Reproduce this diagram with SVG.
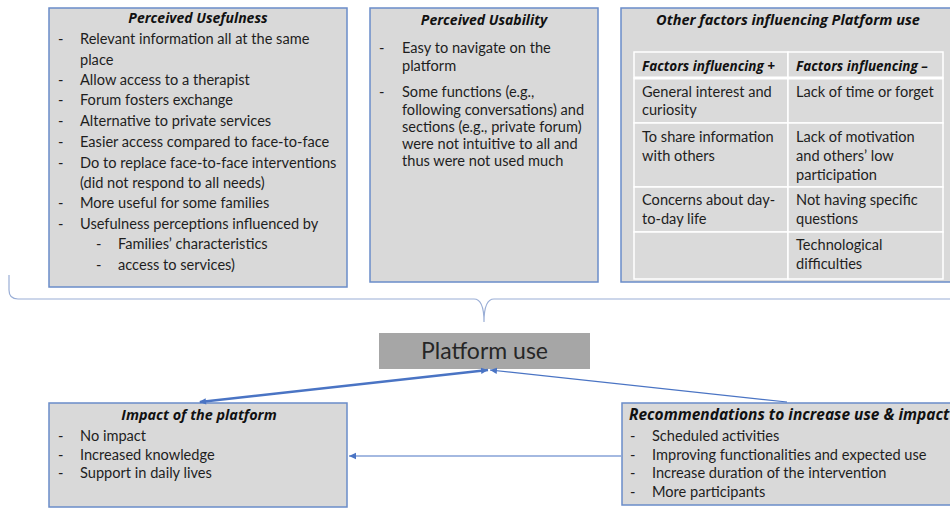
<svg xmlns="http://www.w3.org/2000/svg" width="950" height="510" viewBox="0 0 950 510">
  <style>
    .box { fill: #d9d9d9; stroke: #6a8cc9; stroke-width: 1.5; }
    .txt { font-family: Lato, "Open Sans", sans-serif; font-size: 14.6px; fill: #1e1e1e; }
    .ttl { font-family: "Open Sans", Lato, sans-serif; font-size: 14px; font-weight: bold; font-style: italic; fill: #111; }
    .hdr { font-size: 13.5px; }
    .cell { fill: #dadada; stroke: #ffffff; stroke-width: 1.5; }
    .link { fill: none; stroke: #4a74c4; }
  </style>
  <defs>
    <marker id="arr" markerWidth="8" markerHeight="8" refX="7" refY="4" orient="auto" markerUnits="userSpaceOnUse">
      <path d="M0,0.8 L7,4 L0,7.2 Z" fill="#4a74c4"/>
    </marker>
    <marker id="arrS" markerWidth="8" markerHeight="8" refX="1" refY="4" orient="auto" markerUnits="userSpaceOnUse">
      <path d="M7,0.8 L0,4 L7,7.2 Z" fill="#4a74c4"/>
    </marker>
  </defs>

  <rect width="950" height="510" fill="#ffffff"/>

  <!-- Perceived usefulness -->
  <g id="usefulness">
    <rect class="box" x="49" y="8" width="298" height="279"/>
    <text class="ttl" x="198" y="23" text-anchor="middle">Perceived Usefulness</text>
    <g class="txt">
      <text x="58" y="44">-</text><text x="80" y="44">Relevant information all at the same</text>
      <text x="80" y="65">place</text>
      <text x="58" y="85">-</text><text x="80" y="85">Allow access to a therapist</text>
      <text x="58" y="105">-</text><text x="80" y="105">Forum fosters exchange</text>
      <text x="58" y="126">-</text><text x="80" y="126">Alternative to private services</text>
      <text x="58" y="147">-</text><text x="80" y="147">Easier access compared to face-to-face</text>
      <text x="58" y="168">-</text><text x="80" y="168">Do to replace face-to-face interventions</text>
      <text x="80" y="188">(did not respond to all needs)</text>
      <text x="58" y="208">-</text><text x="80" y="208">More useful for some families</text>
      <text x="58" y="229">-</text><text x="80" y="229">Usefulness perceptions influenced by</text>
      <text x="96" y="249">-</text><text x="118" y="249">Families’ characteristics</text>
      <text x="96" y="270">-</text><text x="118" y="270">access to services)</text>
    </g>
  </g>

  <!-- Perceived usability -->
  <g id="usability">
    <rect class="box" x="370" y="8" width="228" height="274"/>
    <text class="ttl" x="484" y="25" text-anchor="middle">Perceived Usability</text>
    <g class="txt">
      <text x="379" y="53">-</text><text x="402" y="53">Easy to navigate on the</text>
      <text x="402" y="71">platform</text>
      <text x="379" y="97">-</text><text x="402" y="97">Some functions (e.g.,</text>
      <text x="402" y="115">following conversations) and</text>
      <text x="402" y="132">sections (e.g., private forum)</text>
      <text x="402" y="149">were not intuitive to all and</text>
      <text x="402" y="166">thus were not used much</text>
    </g>
  </g>

  <!-- Other factors table -->
  <g id="other-factors">
    <rect class="box" x="621" y="8" width="335" height="274"/>
    <text class="ttl" x="788" y="25" text-anchor="middle" style="font-size:14.5px">Other factors influencing Platform use</text>
    <rect class="cell" x="634" y="52" width="154" height="26"/>
    <rect class="cell" x="788" y="52" width="155" height="26"/>
    <rect class="cell" x="634" y="78" width="154" height="45"/>
    <rect class="cell" x="788" y="78" width="155" height="45"/>
    <rect class="cell" x="634" y="123" width="154" height="64"/>
    <rect class="cell" x="788" y="123" width="155" height="64"/>
    <rect class="cell" x="634" y="187" width="154" height="45"/>
    <rect class="cell" x="788" y="187" width="155" height="45"/>
    <rect class="cell" x="634" y="232" width="154" height="47"/>
    <rect class="cell" x="788" y="232" width="155" height="47"/>
    <line x1="634" y1="78" x2="943" y2="78" stroke="#ffffff" stroke-width="3"/>
    <text class="ttl hdr" x="642" y="71">Factors influencing +</text>
    <text class="ttl hdr" x="796" y="71">Factors influencing –</text>
    <g class="txt">
      <text x="642" y="97">General interest and</text>
      <text x="642" y="115">curiosity</text>
      <text x="796" y="97">Lack of time or forget</text>
      <text x="642" y="142">To share information</text>
      <text x="642" y="161">with others</text>
      <text x="796" y="142">Lack of motivation</text>
      <text x="796" y="161">and others’ low</text>
      <text x="796" y="180">participation</text>
      <text x="642" y="205">Concerns about day-</text>
      <text x="642" y="224">to-day life</text>
      <text x="796" y="205">Not having specific</text>
      <text x="796" y="224">questions</text>
      <text x="796" y="250">Technological</text>
      <text x="796" y="269">difficulties</text>
    </g>
  </g>

  <!-- Central node -->
  <g id="platform-use">
    <rect x="379" y="333" width="211" height="36" fill="#a6a6a6"/>
    <text x="484.5" y="359" text-anchor="middle" font-family="Lato, 'Open Sans', sans-serif" font-size="23" fill="#262626">Platform use</text>
  </g>

  <!-- Impact -->
  <g id="impact">
    <rect class="box" x="49" y="403" width="298" height="104"/>
    <text class="ttl" x="199" y="420" text-anchor="middle" style="font-size:14.4px">Impact of the platform</text>
    <g class="txt">
      <text x="58" y="441">-</text><text x="80" y="441">No impact</text>
      <text x="58" y="460">-</text><text x="80" y="460">Increased knowledge</text>
      <text x="58" y="478">-</text><text x="80" y="478">Support in daily lives</text>
    </g>
  </g>

  <!-- Recommendations -->
  <g id="recommendations">
    <rect class="box" x="622" y="403" width="334" height="102"/>
    <text class="ttl" x="629" y="420" style="font-size:15.5px">Recommendations to increase use &amp; impact</text>
    <g class="txt">
      <text x="630" y="441">-</text><text x="652" y="441">Scheduled activities</text>
      <text x="630" y="460">-</text><text x="652" y="460">Improving functionalities and expected use</text>
      <text x="630" y="478">-</text><text x="652" y="478">Increase duration of the intervention</text>
      <text x="630" y="497">-</text><text x="652" y="497">More participants</text>
    </g>
  </g>

  <!-- Connectors -->
  <g id="connectors">
    <!-- brace grouping the three top boxes -->
    <path d="M9,275 L9,290 Q9,299 18,299 L474,299 Q484,299 484,322 Q484,299 494,299 L950,299" fill="none" stroke="#9aaed6" stroke-width="1.2"/>
    <line class="link" x1="200" y1="402" x2="488" y2="370" stroke-width="2.5" marker-start="url(#arrS)" marker-end="url(#arr)"/>
    <line class="link" x1="787" y1="402" x2="490" y2="370" stroke-width="1.2" marker-end="url(#arr)"/>
    <line class="link" x1="621" y1="456" x2="349" y2="456" stroke-width="1.2" marker-end="url(#arr)"/>
  </g>
</svg>
